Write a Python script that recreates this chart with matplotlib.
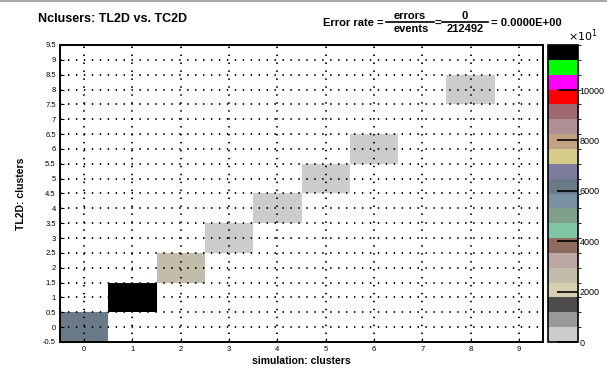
import matplotlib
matplotlib.use("Agg")
import matplotlib.pyplot as plt
import numpy as np
from matplotlib.colors import ListedColormap, BoundaryNorm
from matplotlib.lines import Line2D

plt.rcParams['font.family'] = ['Liberation Sans', 'DejaVu Sans']

# simulation clusters (x) vs TL2D clusters (y), diagonal bin contents
sim_clusters = [0, 1, 2, 3, 4, 5, 6, 8]
tl2d_clusters = [0, 1, 2, 3, 4, 5, 6, 8]
counts = [60632, 117860, 26000, 1800, 1700, 1600, 1500, 1400]
n_events = 212492
n_errors = 0

# ROOT-like palette, bottom to top
palette = ["#cccccc", "#999999", "#4c4c4c", "#d6d0b0", "#c2bdaa", "#bba8a2",
           "#8f6a5e", "#80c6a6", "#80a08a", "#7890a0", "#6a7a88", "#7e7c9c",
           "#d4cc88", "#c2a282", "#b09096", "#a06870", "#ff0000", "#ff00ff",
           "#00ff00", "#000000"]

H = np.zeros((10, 10))
for x, y, c in zip(sim_clusters, tl2d_clusters, counts):
    H[y, x] = c
H = np.ma.masked_equal(H, 0)

zmax = 117900
levels = np.linspace(0, zmax, len(palette) + 1)
cmap = ListedColormap(palette)
norm = BoundaryNorm(levels, cmap.N)

fig = plt.figure(figsize=(6.07, 3.74), dpi=100)
W, Hh = 607.0, 374.0

ax = fig.add_axes([60 / W, 1 - 342 / Hh, 483 / W, 297 / Hh])
edges = np.arange(-0.5, 10, 1)
mesh = ax.pcolormesh(edges, edges, H, cmap=cmap, norm=norm, zorder=1)

ax.set_xlim(-0.5, 9.5)
ax.set_ylim(-0.5, 9.5)
xt = np.arange(0, 10)
yt = np.arange(-0.5, 9.75, 0.5)
ax.set_xticks(xt)
ax.set_xticklabels([str(v) for v in xt])
ax.set_yticks(yt)
ax.set_yticklabels([("%g" % v) for v in yt])
ax.tick_params(direction='in', length=3, width=0.8, labelsize=5.5, pad=3)

# dotted grid on top of cells
dots = (0, (0.8, 3.6))
for v in xt:
    ax.axvline(v, color='black', lw=1.3, ls=dots, zorder=3)
for v in yt[1:-1]:
    ax.axhline(v, color='black', lw=1.3, ls=dots, zorder=3)

for s in ax.spines.values():
    s.set_linewidth(1.4)

ax.set_xlabel("simulation: clusters", fontsize=7.5, fontweight='bold', labelpad=2)
ax.set_ylabel("TL2D: clusters", fontsize=7.5, fontweight='bold', labelpad=12)

# colorbar
cax = fig.add_axes([548 / W, 1 - 342 / Hh, 30 / W, 297 / Hh])
cb = fig.colorbar(mesh, cax=cax, boundaries=levels, ticks=[0, 20000, 40000, 60000, 80000, 100000])
cb.ax.set_yticklabels(["0", "2000", "4000", "6000", "8000", "10000"])
cb.ax.tick_params(direction='in', length=15, width=1.2, labelsize=6.5, pad=1)
cb.outline.set_linewidth(1.2)
fig.text(568 / W, 1 - 41 / Hh, r"$\times10^{1}$", fontsize=8, ha='left', va='baseline')

# title
fig.text(38 / W, 1 - 22 / Hh, "Nclusers: TL2D vs. TC2D", fontsize=9, fontweight='bold',
         ha='left', va='baseline')

# error rate formula
fs = 8
kw = dict(fontsize=fs, fontweight='bold', va='baseline')
fig.text(384 / W, 1 - 26 / Hh, "Error rate =", ha='right', **kw)
fig.text(410 / W, 1 - 19 / Hh, "errors", ha='center', **kw)
fig.text(411 / W, 1 - 32 / Hh, "events", ha='center', **kw)
fig.add_artist(Line2D([386 / W, 434 / W], [1 - 21.5 / Hh, 1 - 21.5 / Hh], color='black', lw=1.2))
fig.text(438 / W, 1 - 26 / Hh, "=", ha='center', **kw)
fig.text(465 / W, 1 - 19 / Hh, str(n_errors), ha='center', **kw)
fig.text(465 / W, 1 - 32 / Hh, str(n_events), ha='center', **kw)
fig.add_artist(Line2D([442 / W, 488 / W], [1 - 21.5 / Hh, 1 - 21.5 / Hh], color='black', lw=1.2))
fig.text(491 / W, 1 - 26 / Hh, "= %.4E" % (n_errors / n_events), ha='left', **kw)

# canvas top border
fig.add_artist(Line2D([0, 1], [1 - 0.5 / Hh, 1 - 0.5 / Hh], color='#aaaaaa', lw=1.5))

fig.savefig("out.png", dpi=100)
